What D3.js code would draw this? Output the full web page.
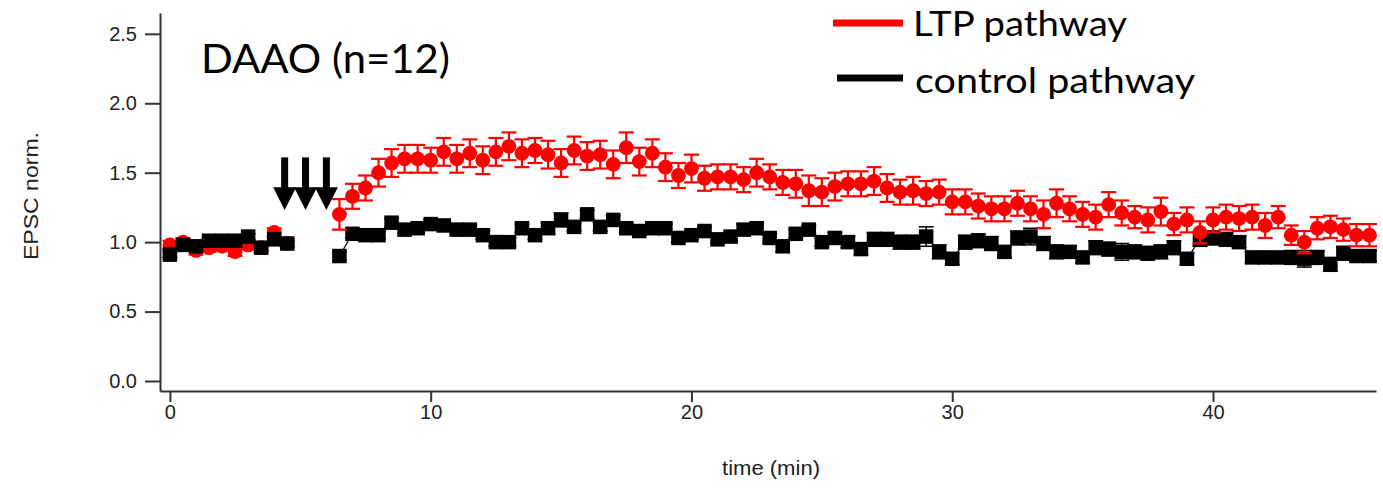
<!DOCTYPE html>
<html><head><meta charset="utf-8">
<script src="https://cdn.jsdelivr.net/npm/d3@7"></script>
<style>body{margin:0;background:#fff}svg{display:block}</style>
</head><body>
<svg id="c" width="1383" height="491"></svg>
<script>
// ---------- data ----------
const timePre = [0,0.5,1,1.5,2,2.5,3,3.5,4,4.5];
const ltpPre  = [0.98,1.00,0.94,0.96,0.97,0.93,0.98,0.96,1.07,0.99];
const ltpErrPre = [0.03,0.03,0.03,0.03,0.03,0.03,0.03,0.03,0.03,0.03];
const ctrlPre = [0.91,0.98,0.97,1.01,1.01,1.01,1.04,0.96,1.02,0.99];
const ctrlErrPre = [0.02,0.02,0.02,0.02,0.02,0.02,0.02,0.02,0.02,0.02];

const timePost = [6.5,7,7.5,8,8.5,9,9.5,10,10.5,11,11.5,12,12.5,13,13.5,14,14.5,15,15.5,16,
  16.5,17,17.5,18,18.5,19,19.5,20,20.5,21,21.5,22,22.5,23,23.5,24,24.5,25,25.5,26,
  26.5,27,27.5,28,28.5,29,29.5,30,30.5,31,31.5,32,32.5,33,33.5,34,34.5,35,35.5,36,
  36.5,37,37.5,38,38.5,39,39.5,40,40.5,41,41.5,42,42.5,43,43.5,44,44.5,45,45.5,46];
const ltpPost = [1.20,1.33,1.39,1.50,1.57,1.60,1.60,1.59,1.65,1.60,
  1.64,1.59,1.65,1.69,1.64,1.66,1.63,1.57,1.66,1.62,
  1.63,1.56,1.68,1.58,1.64,1.54,1.48,1.53,1.46,1.47,
  1.47,1.45,1.50,1.47,1.43,1.42,1.37,1.36,1.40,1.42,
  1.42,1.44,1.39,1.36,1.37,1.35,1.36,1.29,1.29,1.26,
  1.24,1.24,1.28,1.24,1.20,1.28,1.24,1.20,1.18,1.27,
  1.21,1.18,1.16,1.22,1.13,1.16,1.07,1.16,1.18,1.17,
  1.18,1.12,1.18,1.05,1.00,1.10,1.11,1.09,1.05,1.05];
const ltpErrPost = [0.11,0.09,0.09,0.10,0.10,0.10,0.10,0.09,0.10,0.10,
  0.10,0.10,0.10,0.10,0.10,0.09,0.10,0.10,0.10,0.10,
  0.10,0.10,0.11,0.10,0.10,0.10,0.09,0.10,0.09,0.09,
  0.09,0.09,0.10,0.09,0.09,0.10,0.11,0.10,0.10,0.09,
  0.09,0.10,0.10,0.09,0.10,0.09,0.09,0.09,0.09,0.09,
  0.09,0.09,0.09,0.09,0.10,0.10,0.09,0.09,0.09,0.09,
  0.09,0.08,0.09,0.10,0.08,0.09,0.08,0.09,0.09,0.09,
  0.09,0.09,0.08,0.07,0.08,0.08,0.08,0.08,0.08,0.08];
const ctrlPost = [0.90,1.06,1.05,1.05,1.14,1.09,1.10,1.13,1.12,1.09,
  1.09,1.05,1.00,1.00,1.10,1.05,1.10,1.16,1.11,1.20,
  1.11,1.16,1.10,1.08,1.10,1.10,1.03,1.05,1.08,1.02,
  1.04,1.09,1.10,1.03,0.97,1.06,1.09,1.00,1.03,1.00,
  0.95,1.02,1.02,1.00,1.00,1.04,0.93,0.88,1.00,1.01,
  0.99,0.93,1.03,1.04,0.99,0.93,0.93,0.89,0.96,0.95,
  0.93,0.93,0.92,0.93,0.96,0.88,1.02,1.03,1.02,1.00,
  0.89,0.89,0.89,0.89,0.88,0.89,0.84,0.92,0.90,0.90];
const ctrlErrPost = [0.03,0.03,0.03,0.03,0.03,0.03,0.03,0.03,0.03,0.03,
  0.03,0.03,0.03,0.03,0.03,0.03,0.04,0.05,0.03,0.03,
  0.03,0.03,0.03,0.03,0.03,0.03,0.03,0.03,0.03,0.03,
  0.03,0.04,0.04,0.03,0.04,0.03,0.03,0.03,0.04,0.04,
  0.04,0.05,0.05,0.05,0.05,0.07,0.05,0.04,0.05,0.05,
  0.05,0.04,0.05,0.06,0.05,0.05,0.04,0.04,0.05,0.05,
  0.06,0.05,0.05,0.05,0.05,0.04,0.05,0.05,0.05,0.04,
  0.04,0.04,0.04,0.05,0.06,0.05,0.05,0.05,0.04,0.04];

const yTicks = [0.0,0.5,1.0,1.5,2.0,2.5];
const xTicks = [0,10,20,30,40];
const arrowTimes = [4.4,5.2,6.0];
const titleText = "DAAO (n=12)";
const legendLabels = ["LTP pathway","control pathway"];
const legendColors = ["#ff0000","#000000"];
const xLabel = "time (min)";
const yLabel = "EPSC norm.";

// ---------- drawing ----------
const svg = d3.select("#c");
const x = d3.scaleLinear().domain([-0.38, 46.25]).range([160, 1376]);
const y = d3.scaleLinear().domain([-0.072, 2.65]).range([391, 13]);

const zip = (t, v, e) => t.map((d, i) => ({t: d, v: v[i], e: e[i]}));
const ltpPreD = zip(timePre, ltpPre, ltpErrPre);
const ctrlPreD = zip(timePre, ctrlPre, ctrlErrPre);
const ltpPostD = zip(timePost, ltpPost, ltpErrPost);
const ctrlPostD = zip(timePost, ctrlPost, ctrlErrPost);

const axFont = "Liberation Sans, Arial, sans-serif";
// axes
const yAxis = svg.append("g").attr("transform", "translate(160,0)")
  .call(d3.axisLeft(y).tickValues(yTicks).tickSize(15).tickSizeOuter(0).tickPadding(8).tickFormat(d3.format(".1f")));
const xAxis = svg.append("g").attr("transform", "translate(0,391)")
  .call(d3.axisBottom(x).tickValues(xTicks).tickSize(11).tickSizeOuter(0).tickPadding(3).tickFormat(d3.format("d")));
[yAxis, xAxis].forEach(g => {
  g.selectAll("path.domain").attr("stroke", "#333").attr("stroke-width", 2);
  g.selectAll(".tick line").attr("stroke", "#333").attr("stroke-width", 2);
  g.selectAll("text").attr("font-family", axFont).attr("font-size", 20).attr("fill", "#222");
});

svg.append("text").attr("x", 771).attr("y", 475).attr("text-anchor", "middle")
  .attr("font-family", axFont).attr("font-size", 20).attr("fill", "#222")
  .attr("textLength", 98).attr("lengthAdjust", "spacingAndGlyphs")
  .text(xLabel);
svg.append("text").attr("transform", "translate(38,196) rotate(-90)").attr("text-anchor", "middle")
  .attr("font-family", axFont).attr("font-size", 20).attr("fill", "#222")
  .attr("textLength", 128).attr("lengthAdjust", "spacingAndGlyphs")
  .text(yLabel);

// error bars helper
function errBars(data, color, sw) {
  const g = svg.append("g").attr("stroke", color).attr("stroke-width", sw).attr("fill", "none");
  const cap = 7.5;
  data.forEach(d => {
    const cx = x(d.t), y1 = y(d.v + d.e), y2 = y(d.v - d.e);
    g.append("line").attr("x1", cx).attr("x2", cx).attr("y1", y1).attr("y2", y2);
    g.append("line").attr("x1", cx - cap).attr("x2", cx + cap).attr("y1", y1).attr("y2", y1);
    g.append("line").attr("x1", cx - cap).attr("x2", cx + cap).attr("y1", y2).attr("y2", y2);
  });
}
function circles(data, color) {
  svg.append("g").selectAll("circle").data(data).join("circle")
    .attr("cx", d => x(d.t)).attr("cy", d => y(d.v)).attr("r", 7.4).attr("fill", color);
}
function squares(data, color) {
  const s = 14.5;
  svg.append("g").selectAll("rect").data(data).join("rect")
    .attr("x", d => x(d.t) - s / 2).attr("y", d => y(d.v) - s / 2)
    .attr("width", s).attr("height", s).attr("fill", color);
}
const line = d3.line().x(d => x(d.t)).y(d => y(d.v));

// pre-baseline: red under black
errBars(ltpPreD, "#ff0000", 2);
circles(ltpPreD, "#ff0000");
svg.append("path").datum(ctrlPreD).attr("d", line).attr("stroke", "#000").attr("stroke-width", 1.2).attr("fill", "none");
errBars(ctrlPreD, "#000", 1.5);
squares(ctrlPreD, "#000");

// post: black then red on top
svg.append("path").datum(ctrlPostD).attr("d", line).attr("stroke", "#000").attr("stroke-width", 1.2).attr("fill", "none");
errBars(ctrlPostD, "#000", 1.5);
squares(ctrlPostD, "#000");
errBars(ltpPostD, "#ff0000", 2.2);
circles(ltpPostD, "#ff0000");

// arrows
const arrowTop = 1.61, arrowBase = 1.395, arrowTip = 1.232;
arrowTimes.forEach(t => {
  const cx = x(t);
  svg.append("rect").attr("x", cx - 3.5).attr("y", y(arrowTop)).attr("width", 7)
    .attr("height", y(arrowBase) - y(arrowTop) + 1).attr("fill", "#000");
  svg.append("path").attr("d", `M${cx - 11.5},${y(arrowBase)} L${cx + 11.5},${y(arrowBase)} L${cx},${y(arrowTip)} Z`).attr("fill", "#000");
});

// title
svg.append("text").attr("x", 201).attr("y", 73)
  .attr("font-family", "Lato, Carlito, Calibri, sans-serif").attr("font-size", 40).attr("fill", "#000")
  .attr("textLength", 249).attr("lengthAdjust", "spacingAndGlyphs").text(titleText);

// legend
const legY = [23, 78];
const legBase = [36, 93];
const legX1 = [833, 837];
const legTextX = [913, 915];
const legW = [214, 280];
legendLabels.forEach((lab, i) => {
  svg.append("line").attr("x1", legX1[i]).attr("x2", 903).attr("y1", legY[i]).attr("y2", legY[i])
    .attr("stroke", legendColors[i]).attr("stroke-width", 7);
  svg.append("text").attr("x", legTextX[i]).attr("y", legBase[i])
    .attr("font-family", "Lato, Carlito, Calibri, sans-serif").attr("font-size", 34).attr("fill", "#000")
    .attr("textLength", legW[i]).attr("lengthAdjust", "spacingAndGlyphs").text(lab);
});
</script>
</body></html>
